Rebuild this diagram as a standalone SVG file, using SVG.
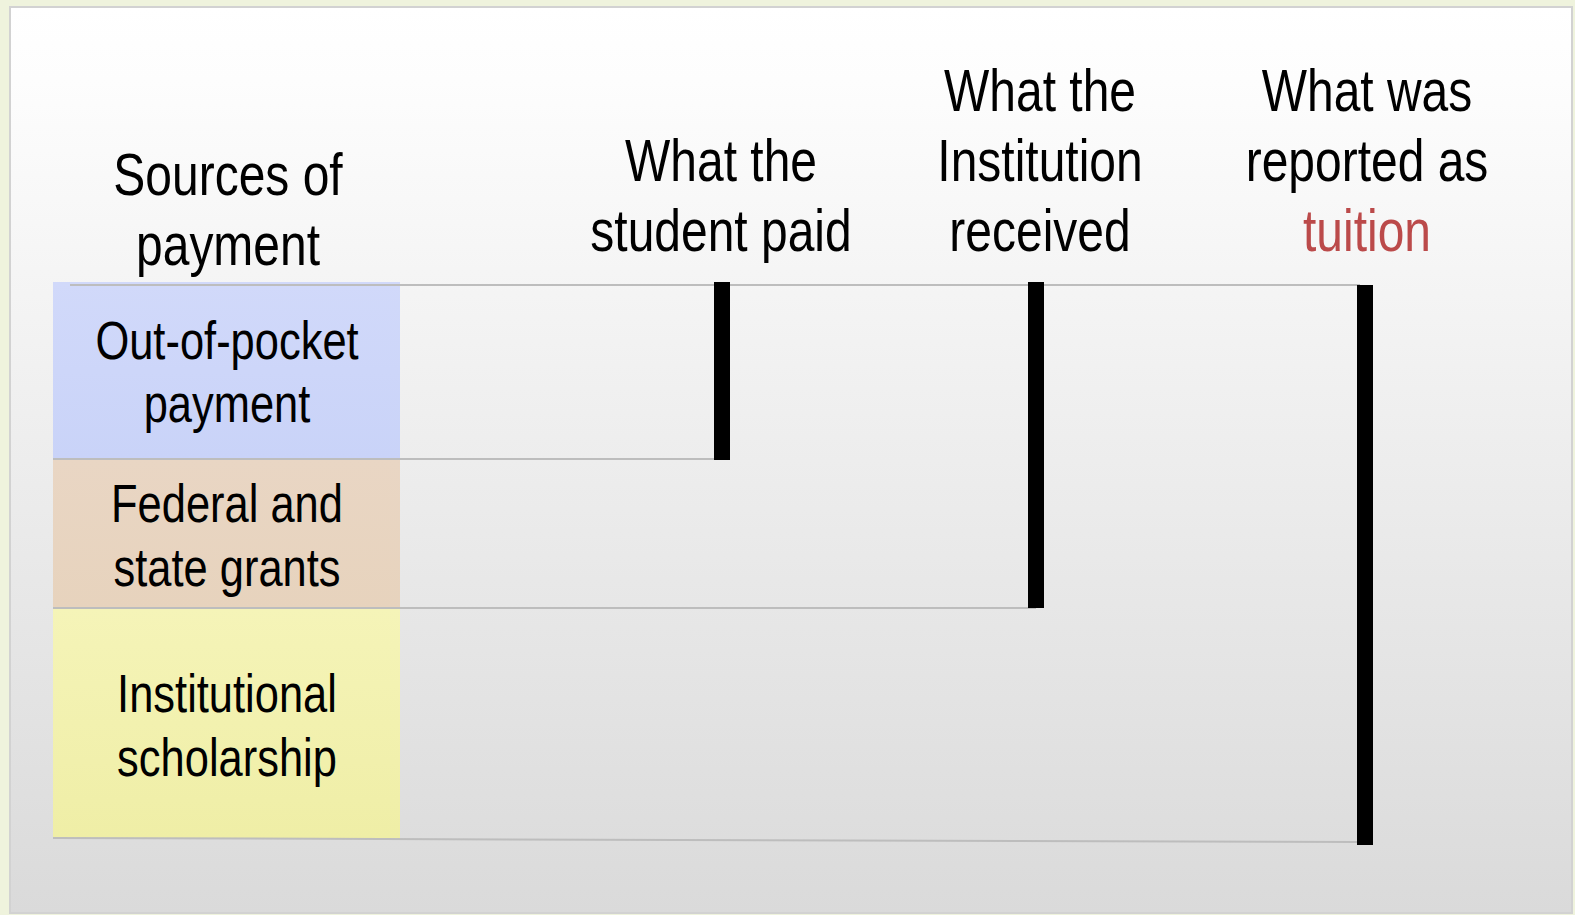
<svg xmlns="http://www.w3.org/2000/svg" width="1575" height="915" viewBox="0 0 1575 915">
<style>
.t{font-family:"Liberation Sans",Arial,sans-serif;font-size:58.5px;text-anchor:middle;fill:#000}
.b{font-family:"Liberation Sans",Arial,sans-serif;font-size:53px;text-anchor:middle;fill:#000}
.red{fill:#bb4a4a}
.rule{stroke:#bdbdbd;stroke-width:2;fill:none}
.bar{fill:#000}
</style>
<defs>
<linearGradient id="panel" x1="0" y1="0" x2="0" y2="1">
<stop offset="0" stop-color="#ffffff"/>
<stop offset="0.08" stop-color="#fdfdfd"/>
<stop offset="1" stop-color="#dadada"/>
</linearGradient>
<linearGradient id="blue" x1="0" y1="0" x2="0" y2="1">
<stop offset="0" stop-color="#d1d9fa"/>
<stop offset="1" stop-color="#c9d3f8"/>
</linearGradient>
<linearGradient id="tan" x1="0" y1="0" x2="0" y2="1">
<stop offset="0" stop-color="#e9d6c4"/>
<stop offset="1" stop-color="#e7d3bd"/>
</linearGradient>
<linearGradient id="yellow" x1="0" y1="0" x2="0" y2="1">
<stop offset="0" stop-color="#f5f4b8"/>
<stop offset="1" stop-color="#efeea6"/>
</linearGradient>
</defs>
<rect x="0" y="0" width="1575" height="915" fill="#eff3dd"/>
<rect x="10" y="7" width="1562" height="906" fill="url(#panel)" stroke="#d2d2d2" stroke-width="2"/>

<g id="header-sources">
<text class="t" transform="translate(228 0) scale(0.82 1)"><tspan x="0" y="195">Sources of</tspan><tspan x="0" y="265">payment</tspan></text>
</g>
<g id="header-student">
<text class="t" transform="translate(721 0) scale(0.82 1)"><tspan x="0" y="181">What the</tspan><tspan x="0" y="251">student paid</tspan></text>
</g>
<g id="header-institution">
<text class="t" transform="translate(1040 0) scale(0.82 1)"><tspan x="0" y="111">What the</tspan><tspan x="0" y="181">Institution</tspan><tspan x="0" y="251">received</tspan></text>
</g>
<g id="header-tuition">
<text class="t" transform="translate(1367 0) scale(0.82 1)"><tspan x="0" y="111">What was</tspan><tspan x="0" y="181">reported as</tspan><tspan x="0" y="251" class="red">tuition</tspan></text>
</g>

<g id="box-out-of-pocket">
<rect x="53" y="282" width="347" height="177" fill="url(#blue)"/>
<text class="b" transform="translate(227 0) scale(0.82 1)"><tspan x="0" y="359">Out-of-pocket</tspan><tspan x="0" y="422">payment</tspan></text>
</g>
<g id="box-grants">
<rect x="53" y="459" width="347" height="149" fill="url(#tan)"/>
<text class="b" transform="translate(227 0) scale(0.82 1)"><tspan x="0" y="522">Federal and</tspan><tspan x="0" y="586">state grants</tspan></text>
</g>
<g id="box-scholarship">
<rect x="53" y="608" width="347" height="230" fill="url(#yellow)"/>
<text class="b" transform="translate(227 0) scale(0.82 1)"><tspan x="0" y="712">Institutional</tspan><tspan x="0" y="776">scholarship</tspan></text>
</g>

<g id="connectors">
<line class="rule" x1="70" y1="285" x2="1360" y2="285"/>
<line class="rule" x1="53" y1="459" x2="722" y2="459"/>
<line class="rule" x1="53" y1="608" x2="1036" y2="608"/>
<line class="rule" x1="53" y1="838" x2="1360" y2="842"/>
<rect class="bar" x="714" y="282" width="16" height="178"/>
<rect class="bar" x="1028" y="282" width="16" height="326"/>
<rect class="bar" x="1357" y="285" width="16" height="560"/>
</g>
</svg>
